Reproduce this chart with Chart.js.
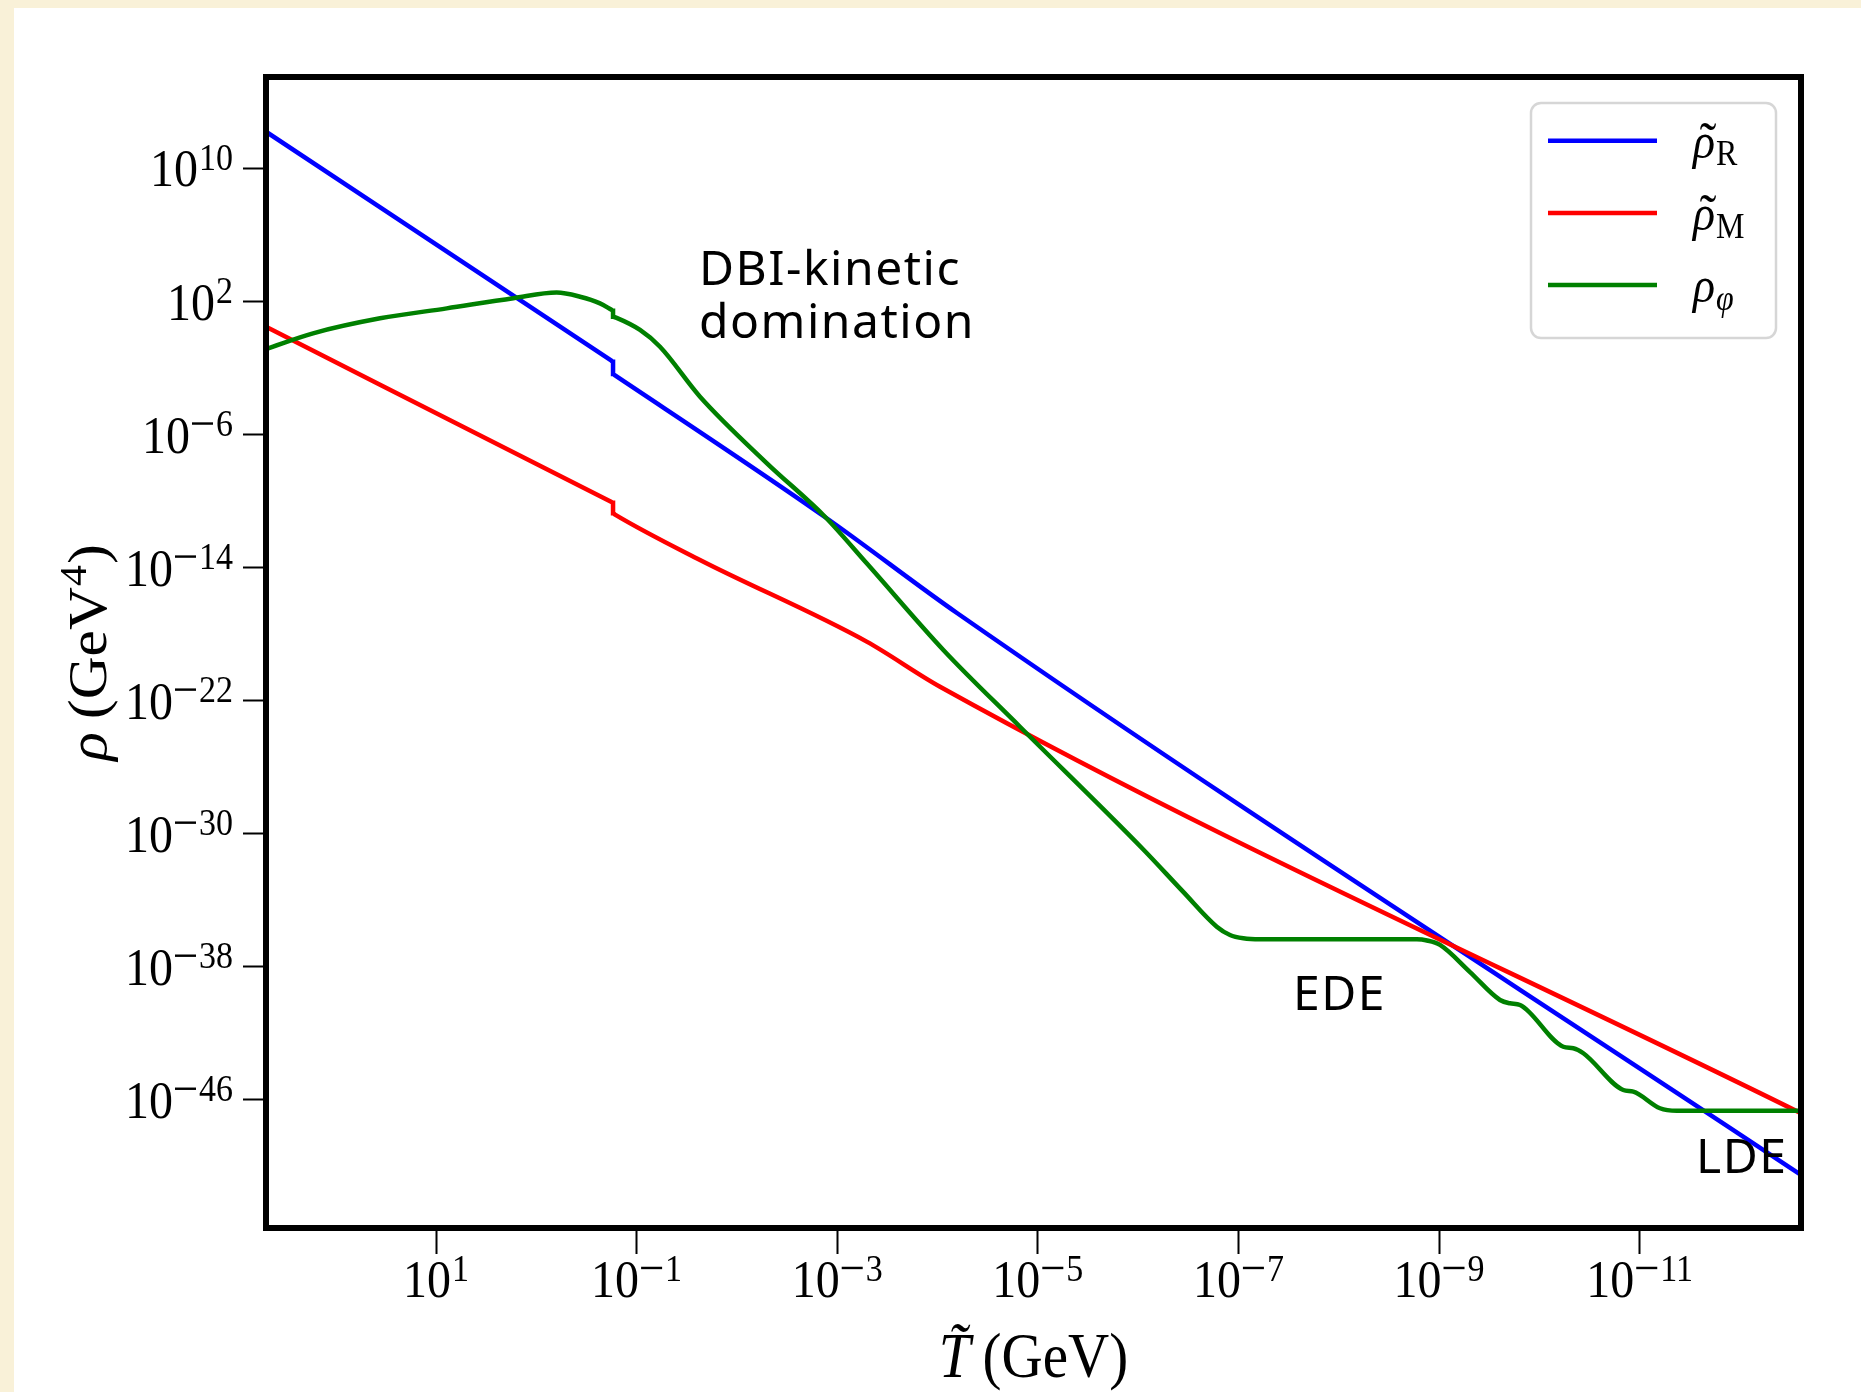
<!DOCTYPE html>
<html>
<head>
<meta charset="utf-8">
<script src="https://cdn.jsdelivr.net/npm/chart.js@4.4.0/dist/chart.umd.min.js"></script>
<style>
  html, body { margin: 0; padding: 0; background: #f9f1d8; }
  canvas { display: block; }
</style>
</head>
<body>
<canvas id="rhoChart" width="1861" height="1392"></canvas>
<script>
// all values are log10: T in GeV, rho in GeV^4
// the jump near T = 10^-0.77 is kept as two points at the same T
const logT_R   = [2.695, -0.745, -0.765, -0.765, -0.785, -2.895, -4.194, -12.609];
const logRho_R = [12.21, -1.54, -1.62, -2.36, -2.44, -11.03, -16.73, -50.52];

const logT_M   = [2.695, -0.745, -0.765, -0.765, -0.785, -1.632, -3.294, -4.025, -12.609];
const logRho_M = [0.49, -10.04, -10.10, -10.73, -10.81, -13.54, -18.45, -21.16, -46.81];

const logT_phi = [2.695, 2.226, 1.558, 0.893, 0.229, -0.203, -0.436, -0.635, -0.745, -0.765,
  -0.765, -0.795, -1.034, -1.233, -1.632, -2.297, -2.878, -3.294, -4.058, -4.822,
  -6.052, -6.45, -6.784, -6.916, -7.049, -7.215, -8.778, -8.88, -9.010, -9.309, -9.608,
  -9.708, -9.808, -10.239, -10.339, -10.439, -10.837, -10.937, -11.203, -11.370, -12.609];
const logRho_phi = [-0.85, 0.09, 0.99, 1.59, 2.20, 2.54, 2.29, 1.89, 1.52, 1.45,
  1.09, 1.03, 0.29, -0.72, -3.72, -7.71, -10.94, -13.74, -18.95, -23.57,
  -30.95, -33.50, -35.59, -36.09, -36.29, -36.35, -36.35, -36.42, -36.69, -38.32, -40.00,
  -40.20, -40.30, -42.81, -42.90, -43.20, -45.41, -45.51, -46.51, -46.66, -46.66];

const seriesLabels = ['ρ̃_R', 'ρ̃_M', 'ρ_φ'];
const xTickExps = [1, -1, -3, -5, -7, -9, -11];
const yTickExps = [10, 2, -6, -14, -22, -30, -38, -46];

// text notes placed in data coords (log10 T, log10 rho)
const notes = [
  { text: 'DBI-kinetic', logT: -1.622, logRho: 2.99 },
  { text: 'domination', logT: -1.622, logRho: -0.19 },
  { text: 'EDE', logT: -7.544, logRho: -40.60 },
  { text: 'LDE', logT: -11.562, logRho: -50.40 }
];

const toPoints = (xs, ys) => xs.map((v, i) => ({ x: Math.pow(10, v), y: Math.pow(10, ys[i]) }));

const SERIF = '"Liberation Serif", "DejaVu Serif", serif';
const STRETCH = 1.1;

function powerLabel(ctx, exp, x, y, align) {
  const neg = exp < 0;
  const digits = String(Math.abs(exp));
  ctx.font = '48px ' + SERIF;
  const wb = ctx.measureText('10').width;
  ctx.font = '34px ' + SERIF;
  const wm = neg ? 25 : 0;
  const wd = ctx.measureText(digits).width;
  const w = wb + 1 + wm + wd;
  const x0 = align === 'right' ? x - w : x - w / 2;
  ctx.save();
  ctx.translate(x0, y);
  ctx.scale(1, STRETCH);
  ctx.textAlign = 'left';
  ctx.textBaseline = 'alphabetic';
  ctx.fillStyle = '#000';
  ctx.font = '48px ' + SERIF;
  ctx.fillText('10', 0, 0);
  ctx.font = '34px ' + SERIF;
  if (neg) ctx.fillRect(wb + 2, -15 - 12.5, 21, 2.2);
  ctx.fillText(digits, wb + 1 + wm, -15);
  ctx.restore();
}

const framePlugin = {
  id: 'frame',
  beforeDraw(chart) {
    const ctx = chart.ctx;
    ctx.save();
    ctx.fillStyle = '#f9f1d8';
    ctx.fillRect(0, 0, chart.width, chart.height);
    ctx.fillStyle = '#ffffff';
    ctx.fillRect(14, 8, chart.width - 14, chart.height - 8);
    ctx.restore();
  },
  afterDraw(chart) {
    const ctx = chart.ctx;
    const a = chart.chartArea;
    const xs = chart.scales.x, ys = chart.scales.y;
    ctx.save();

    // axes box
    ctx.strokeStyle = '#000';
    ctx.lineWidth = 6;
    ctx.strokeRect(a.left, a.top, a.right - a.left, a.bottom - a.top);

    // tick labels
    xTickExps.forEach(e => powerLabel(ctx, e, xs.getPixelForValue(Math.pow(10, e)), a.bottom + 69, 'center'));
    yTickExps.forEach(e => powerLabel(ctx, e, a.left - 33, ys.getPixelForValue(Math.pow(10, e)) + 18, 'right'));

    // x title
    ctx.fillStyle = '#000';
    ctx.textBaseline = 'alphabetic';
    ctx.textAlign = 'left';
    ctx.font = 'italic 57px ' + SERIF;
    const wT = ctx.measureText('T\u0303').width;
    ctx.font = '57px ' + SERIF;
    const wG = ctx.measureText('(GeV)').width;
    const tx = (a.left + a.right) / 2 - (wT + 12 + wG) / 2;
    ctx.save();
    ctx.translate(tx, 1377);
    ctx.scale(1, STRETCH);
    ctx.font = 'italic 57px ' + SERIF;
    ctx.fillText('T\u0303', 0, 0);
    ctx.font = '57px ' + SERIF;
    ctx.fillText('(GeV)', wT + 12, 0);
    ctx.restore();

    // y title, rotated
    ctx.font = 'italic 54px ' + SERIF;
    const wR = ctx.measureText('ρ').width;
    ctx.font = '54px ' + SERIF;
    const wOpen = ctx.measureText('(GeV').width;
    const wClose = ctx.measureText(')').width;
    ctx.font = '38px ' + SERIF;
    const w4 = ctx.measureText('4').width;
    const total = wR + 12 + wOpen + w4 + 2 + wClose;
    ctx.save();
    ctx.translate(106, (a.top + a.bottom) / 2);
    ctx.scale(1, STRETCH);
    ctx.rotate(-Math.PI / 2);
    let cx = -total / 2;
    ctx.font = 'italic 54px ' + SERIF;
    ctx.fillText('ρ', cx, 0); cx += wR + 12;
    ctx.font = '54px ' + SERIF;
    ctx.fillText('(GeV', cx, 0); cx += wOpen + 1;
    ctx.font = '38px ' + SERIF;
    ctx.fillText('4', cx, -20); cx += w4 + 1;
    ctx.font = '54px ' + SERIF;
    ctx.fillText(')', cx, 0);
    ctx.restore();

    // legend
    ctx.beginPath();
    ctx.roundRect(1531, 103, 245, 235, 10);
    ctx.fillStyle = '#ffffff';
    ctx.fill();
    ctx.lineWidth = 2.5;
    ctx.strokeStyle = '#d6d6d6';
    ctx.stroke();
    chart.data.datasets.forEach((ds, i) => {
      const ly = 140.7 + i * 72.2;
      ctx.beginPath();
      ctx.moveTo(1548, ly);
      ctx.lineTo(1657, ly);
      ctx.lineWidth = 4.5;
      ctx.strokeStyle = ds.borderColor;
      ctx.stroke();
      const parts = ds.label.split('_');
      const tilde = parts[0].includes('\u0303');
      const sym = parts[0].replace('\u0303', '');
      ctx.save();
      ctx.translate(1693, ly + 17);
      ctx.scale(1, STRETCH);
      ctx.fillStyle = '#000';
      ctx.font = 'italic 46px ' + SERIF;
      ctx.textAlign = 'left';
      ctx.fillText(sym, 0, 0);
      const wm = ctx.measureText(sym).width;
      if (tilde) {
        ctx.font = '50px ' + SERIF;
        ctx.textAlign = 'center';
        ctx.fillText('\u02DC', wm / 2 + 4, 2);
        ctx.textAlign = 'left';
      }
      ctx.font = (parts[1] === 'φ' ? 'italic ' : '') + '32px ' + SERIF;
      ctx.fillText(parts[1], wm + 1, 7);
      ctx.restore();
    });

    // annotations
    ctx.fillStyle = '#000';
    ctx.textAlign = 'left';
    ctx.font = '48px "Noto Sans", "Open Sans", sans-serif';
    ctx.letterSpacing = '1.5px';
    notes.forEach(n => {
      ctx.fillText(n.text, xs.getPixelForValue(Math.pow(10, n.logT)), ys.getPixelForValue(Math.pow(10, n.logRho)));
    });
    ctx.restore();
  }
};

const lineStyle = { borderWidth: 4.5, pointRadius: 0, cubicInterpolationMode: 'monotone' };

new Chart(document.getElementById('rhoChart'), {
  type: 'line',
  data: {
    datasets: [
      { ...lineStyle, label: seriesLabels[0], data: toPoints(logT_R, logRho_R), borderColor: '#0000ff', order: 3 },
      { ...lineStyle, label: seriesLabels[1], data: toPoints(logT_M, logRho_M), borderColor: '#ff0000', order: 2 },
      { ...lineStyle, label: seriesLabels[2], data: toPoints(logT_phi, logRho_phi), borderColor: '#008000', order: 1 }
    ]
  },
  options: {
    responsive: false,
    animation: false,
    events: [],
    layout: { padding: { top: 77, right: 60, left: 0, bottom: 0 } },
    plugins: {
      legend: { display: false },
      tooltip: { enabled: false }
    },
    scales: {
      x: {
        type: 'logarithmic',
        reverse: true,
        min: Math.pow(10, -12.609),
        max: Math.pow(10, 2.695),
        afterBuildTicks: s => { s.ticks = xTickExps.map(e => ({ value: Math.pow(10, e) })); },
        afterFit: s => { s.height = 164; },
        ticks: { display: false, autoSkip: false },
        grid: { drawOnChartArea: false, tickLength: 26, tickWidth: 2, tickColor: '#000' },
        border: { display: false }
      },
      y: {
        type: 'logarithmic',
        min: Math.pow(10, -53.71),
        max: Math.pow(10, 15.502),
        afterBuildTicks: s => { s.ticks = yTickExps.map(e => ({ value: Math.pow(10, e) })); },
        afterFit: s => { s.width = 266; },
        ticks: { display: false, autoSkip: false },
        grid: { drawOnChartArea: false, tickLength: 23, tickWidth: 2, tickColor: '#000' },
        border: { display: false }
      }
    }
  },
  plugins: [framePlugin]
});
</script>
</body>
</html>
